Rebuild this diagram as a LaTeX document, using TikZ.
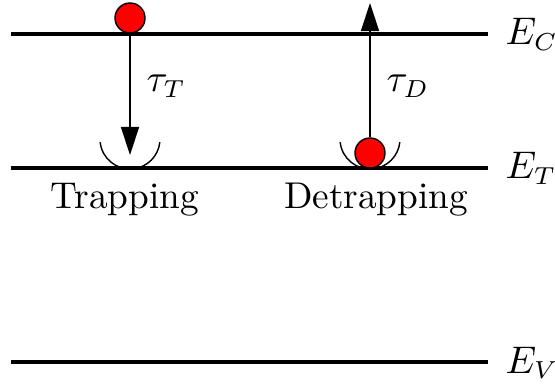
\documentclass[tikz,border=0pt]{standalone}
\usetikzlibrary{arrows.meta}
\begin{document}
\begin{tikzpicture}[x=0.01cm,y=0.01cm,
  font=\fontsize{10.6}{12.7}\selectfont,
  level/.style={line width=1.1pt},
  well/.style={line width=0.4pt},
  elec/.style={circle,draw,fill=red,minimum size=0.3cm,inner sep=0pt},
  lbl/.style={inner sep=0pt,anchor=base west},
  hop/.style={-{Triangle[length=2.8mm,width=1.8mm]}}]
\useasboundingbox (0,0) rectangle (555,385);
% energy levels
\foreach \n/\y/\t in {C/351/C,T/217/T,V/23/V} {
   \coordinate (\n l) at (11,\y);
   \coordinate (\n r) at (488,\y);
   \draw[level] (\n l) -- (\n r);
   \node[lbl] (E\n) at (505,\y-11) {$E_\t$};
}
% trap wells
\foreach \x/\n in {130/a,370/b} {
   \coordinate (w\n) at (\x,246);
   \draw[well] ([shift={(186:30)}]w\n) arc[start angle=186,end angle=354,radius=30];
}
% electrons
\node[elec] (e1) at (130,367) {};
\node[elec] (e2) at (370,232) {};
\coordinate (t1) at (130,230);
\coordinate (t2) at (370,382);
\draw[hop] (e1.south) -- (t1);
\draw[hop] (e2.north) -- (t2);
\node[lbl] (tauT) at (146,293) {$\tau_T$};
\node[lbl] (tauD) at (386,293) {$\tau_D$};
\node[anchor=base] (trap) at (125,176) {Trapping};
\node[anchor=base] (detrap) at (376,176) {Detrapping};
\end{tikzpicture}
\end{document}
